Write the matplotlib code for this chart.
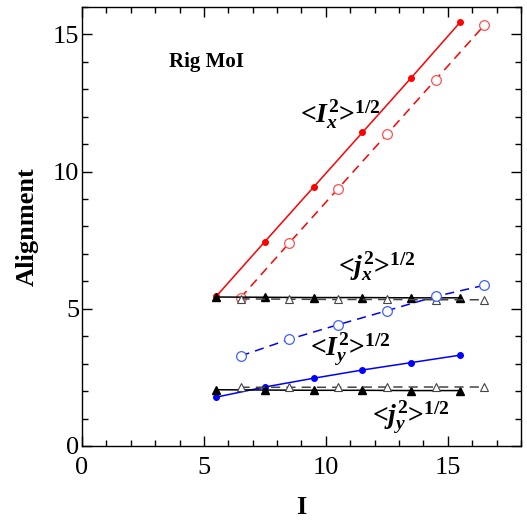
import numpy as np
import matplotlib
matplotlib.use('Agg')
from matplotlib import pyplot as plt
from matplotlib.ticker import MultipleLocator

# spin values for the two signature branches
spin_a = [5.5, 7.5, 9.5, 11.5, 13.5, 15.5]
spin_b = [6.5, 8.5, 10.5, 12.5, 14.5, 16.5]

# rms alignment components
ix_a = [5.45, 7.45, 9.44, 11.43, 13.42, 15.44]
ix_b = [5.40, 7.40, 9.38, 11.36, 13.35, 15.34]
jx_a = [5.43, 5.42, 5.41, 5.41, 5.40, 5.40]
jx_b = [5.36, 5.35, 5.34, 5.34, 5.33, 5.33]
iy_a = [1.78, 2.15, 2.47, 2.77, 3.04, 3.31]
iy_b = [3.28, 3.89, 4.42, 4.93, 5.45, 5.86]
jy_a = [2.05, 2.04, 2.03, 2.03, 2.02, 2.02]
jy_b = [2.14, 2.14, 2.14, 2.15, 2.15, 2.15]

plt.rcParams['font.family'] = ['Liberation Serif', 'DejaVu Serif']
plt.rcParams['mathtext.fontset'] = 'custom'
plt.rcParams['mathtext.rm'] = 'Liberation Serif:bold'
plt.rcParams['mathtext.it'] = 'Liberation Serif:bold:italic'
plt.rcParams['mathtext.bf'] = 'Liberation Serif:bold'

fig = plt.figure(figsize=(5.27, 5.22), dpi=100)
ax = fig.add_axes([0.1556, 0.1456, 0.833, 0.841])

dash = (0, (6, 4))
ax.plot(spin_a, ix_a, '-', color='red', lw=1.1, marker='o', ms=4)
ax.plot(spin_b, ix_b, color='red', lw=1.1, ls=dash, marker='o', ms=7,
        mfc='white', mec='#ff5050', mew=0.9)
ax.plot(spin_a, jx_a, '-', color='black', lw=1.1, marker='^', ms=6)
ax.plot(spin_b, jx_b, color='#444444', lw=1.1, ls=dash, marker='^', ms=6,
        mfc='white', mec='#444444', mew=0.8)
ax.plot(spin_a, iy_a, '-', color='blue', lw=1.1, marker='o', ms=4)
ax.plot(spin_b, iy_b, color='blue', lw=1.1, ls=dash, marker='o', ms=7,
        mfc='white', mec='#4060ff', mew=0.9)
ax.plot(spin_a, jy_a, '-', color='black', lw=1.1, marker='^', ms=6)
ax.plot(spin_b, jy_b, color='#444444', lw=1.1, ls=dash, marker='^', ms=6,
        mfc='white', mec='#444444', mew=0.8)

ax.text(5.1, 14.0, 'Rig MoI', fontsize=15, fontweight='bold', ha='center', va='center')
lbl = dict(fontsize=20, fontweight='bold', ha='center', va='center')
ax.text(10.6, 12.1, r'<$I_x^2$>$^{1/2}$', **lbl)
ax.text(12.1, 6.55, r'<$j_x^2$>$^{1/2}$', **lbl)
ax.text(11.0, 3.5, r'<$I_y^2$>$^{1/2}$', **lbl)
ax.text(13.5, 1.05, r'<$j_y^2$>$^{1/2}$', **lbl)

ax.set_xlim(0, 18)
ax.set_ylim(0, 16)
ax.xaxis.set_major_locator(MultipleLocator(5))
ax.xaxis.set_minor_locator(MultipleLocator(1))
ax.yaxis.set_major_locator(MultipleLocator(5))
ax.yaxis.set_minor_locator(MultipleLocator(1))
ax.tick_params(which='both', direction='in', top=True, right=True, labelsize=19, width=1)
ax.tick_params(which='major', length=7)
ax.tick_params(which='minor', length=4)
ax.tick_params(axis='y', which='major', pad=2)
ax.tick_params(axis='x', which='major', pad=8)
for s in ax.spines.values():
    s.set_linewidth(1)

ax.set_xlabel('I', fontsize=19, fontweight='bold', labelpad=12)
ax.set_ylabel('Alignment', fontsize=19, fontweight='bold', labelpad=10)

fig.savefig('out.png', dpi=100)
